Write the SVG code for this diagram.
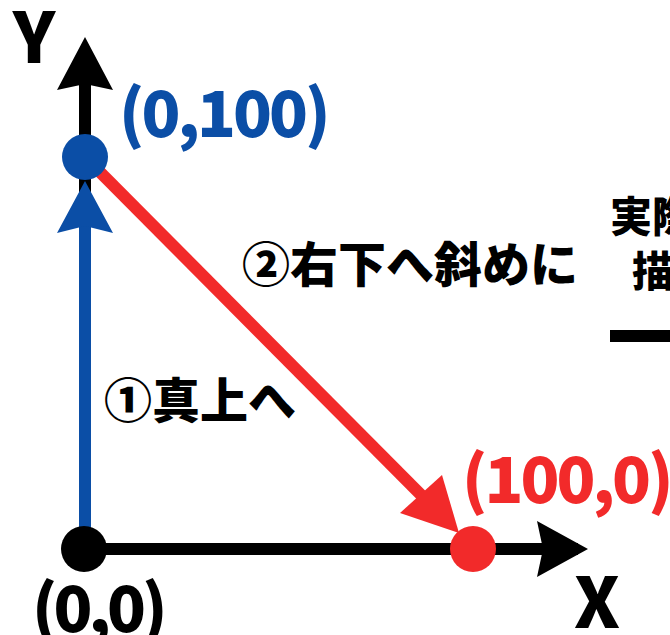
<svg xmlns="http://www.w3.org/2000/svg" width="670" height="635" viewBox="0 0 670 635">
<style>
.t{font-family:"Noto Sans CJK JP","Noto Sans",sans-serif;font-weight:900}
.c{letter-spacing:-3px}
.blk{fill:#000}
.blu{fill:#0b4ea6}
.red{fill:#f22a2a}
</style>
<rect width="670" height="635" fill="#fff"/>
<g id="connectors">
  <line x1="85" y1="549" x2="85" y2="80" stroke="#000" stroke-width="12"/>
  <polygon class="blk" points="85,37 113,90 85,84 57,90"/>
  <line x1="85" y1="549" x2="578" y2="549" stroke="#000" stroke-width="12"/>
  <polygon class="blk" points="588,549 537,577 543,549 537,521"/>
  <line x1="85" y1="549" x2="85" y2="200" stroke="#0b4ea6" stroke-width="12"/>
  <polygon class="blu" points="85,181 113,233 85,226 57,233"/>
  <line x1="86" y1="158" x2="440" y2="514" stroke="#f22a2a" stroke-width="12"/>
  <polygon class="red" points="459,533 400,513 421,494 442,475"/>
</g>
<g id="origin">
  <circle class="blk" cx="84" cy="549" r="23"/>
  <text class="t blk" x="32" y="632" font-size="64" letter-spacing="-4">(0,0)</text>
</g>
<g id="p0100">
  <circle class="blu" cx="85" cy="157" r="23"/>
  <text class="t c blu" x="119" y="137" font-size="64">(0,100)</text>
</g>
<g id="p1000">
  <circle class="red" cx="473" cy="549" r="23"/>
  <text class="t c red" x="462" y="503" font-size="64">(100,0)</text>
</g>
<g id="axis-labels">
  <text class="t blk" x="34" y="63" font-size="70" text-anchor="middle">Y</text>
  <text class="t blk" x="597" y="628" font-size="70" text-anchor="middle">X</text>
</g>
<g id="step-labels">
  <text class="t blk" x="104" y="418" font-size="48">①真上へ</text>
  <text class="t blk" x="242" y="282" font-size="48">②右下へ斜めに</text>
</g>
<g id="legend">
  <text class="t blk" x="610" y="232" font-size="42">実際</text>
  <text class="t blk" x="632" y="287" font-size="42">描</text>
  <rect class="blk" x="610" y="330" width="60" height="12"/>
</g>
</svg>
